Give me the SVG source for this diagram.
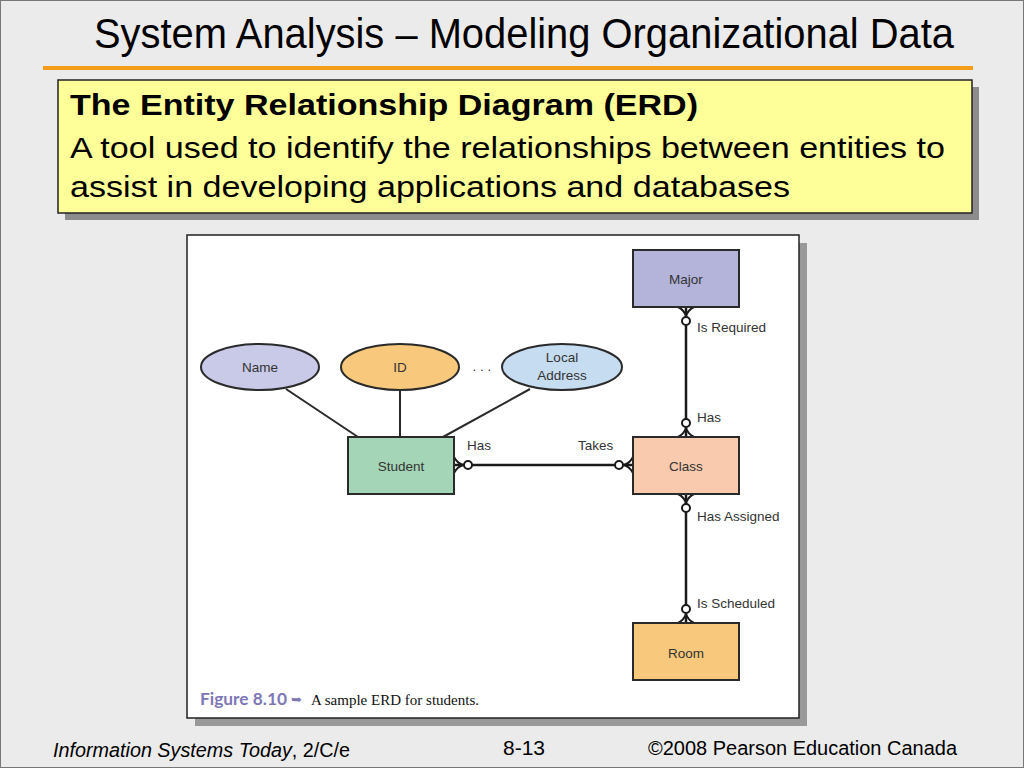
<svg xmlns="http://www.w3.org/2000/svg" width="1024" height="768" viewBox="0 0 1024 768">
<defs>
<style>
.ent{stroke:#2a2a2a;stroke-width:2}
.lbl{font-family:"Liberation Sans",Arial,sans-serif;font-size:13.5px;fill:#333}
.rel{font-family:"Liberation Sans",Arial,sans-serif;font-size:13.5px;fill:#333}
.conn{stroke:#1a1a1a;stroke-width:2.5;fill:none}
.attr{stroke:#2a2a2a;stroke-width:2;fill:none}
.box{font-family:"Liberation Sans",Arial,sans-serif;font-size:30px;fill:#000}
</style>
<marker id="crow" markerUnits="userSpaceOnUse" orient="auto-start-reverse" overflow="visible" refX="0" refY="0" markerWidth="1" markerHeight="1">
<path d="M0,-8 Q-3,-2 -9,0 Q-3,2 0,8" fill="none" stroke="#1a1a1a" stroke-width="2"/>
<circle cx="-14" cy="0" r="4" fill="#fff" stroke="#1a1a1a" stroke-width="2"/>
</marker>
</defs>
<rect x="0" y="0" width="1024" height="768" fill="#ebebeb"/>
<rect x="0.5" y="0.5" width="1023" height="767" fill="none" stroke="#777" stroke-width="1"/>
<text x="524" y="48" text-anchor="middle" font-family="'Liberation Sans',Arial,sans-serif" font-size="42" fill="#000" textLength="860" lengthAdjust="spacingAndGlyphs">System Analysis – Modeling Organizational Data</text>
<rect x="43" y="66" width="930" height="4" fill="#f59d1a"/>
<g id="infobox">
<rect x="65" y="87" width="914" height="133" fill="#8c8c8c"/>
<rect x="58" y="80" width="914" height="133" fill="#ffff99" stroke="#222" stroke-width="1.5"/>
<text class="box" x="70" y="115" font-weight="bold" textLength="628" lengthAdjust="spacingAndGlyphs">The Entity Relationship Diagram (ERD)</text>
<text class="box" x="70" y="158" textLength="875" lengthAdjust="spacingAndGlyphs">A tool used to identify the relationships between entities to</text>
<text class="box" x="70" y="197" textLength="720" lengthAdjust="spacingAndGlyphs">assist in developing applications and databases</text>
</g>
<g id="panel">
<rect x="195" y="243" width="612" height="483" fill="#999"/>
<rect x="187" y="235" width="612" height="483" fill="#fff" stroke="#222" stroke-width="1.5"/>
</g>
<g id="connectors">
<line class="attr" x1="286" y1="389" x2="358" y2="437"/>
<line class="attr" x1="400" y1="390" x2="400" y2="437"/>
<line class="attr" x1="530" y1="389" x2="443" y2="437"/>
<path class="conn" d="M454,465 L633,465" marker-start="url(#crow)" marker-end="url(#crow)"/>
<path class="conn" d="M686,307 L686,437" marker-start="url(#crow)" marker-end="url(#crow)"/>
<path class="conn" d="M686,494 L686,623" marker-start="url(#crow)" marker-end="url(#crow)"/>
<text class="rel" x="467" y="450">Has</text>
<text class="rel" x="578" y="450">Takes</text>
<text class="rel" x="697" y="332">Is Required</text>
<text class="rel" x="697" y="422">Has</text>
<text class="rel" x="697" y="521">Has Assigned</text>
<text class="rel" x="697" y="608">Is Scheduled</text>
</g>
<g id="name">
<ellipse class="ent" cx="260" cy="367" rx="59" ry="23" fill="#c9c9e8"/>
<text class="lbl" x="260" y="372" text-anchor="middle">Name</text>
</g>
<g id="id">
<ellipse class="ent" cx="400" cy="367" rx="59" ry="23" fill="#f8c97c"/>
<text class="lbl" x="400" y="372" text-anchor="middle">ID</text>
</g>
<text class="lbl" x="482" y="371" text-anchor="middle">. . .</text>
<g id="localaddress">
<ellipse class="ent" cx="562" cy="367" rx="60" ry="23" fill="#c6ddf1"/>
<text class="lbl" x="562" y="362" text-anchor="middle">Local</text>
<text class="lbl" x="562" y="380" text-anchor="middle">Address</text>
</g>
<g id="student">
<rect class="ent" x="348" y="437" width="106" height="57" fill="#a5d5b7"/>
<text class="lbl" x="401" y="471" text-anchor="middle">Student</text>
</g>
<g id="major">
<rect class="ent" x="633" y="250" width="106" height="57" fill="#b4b3da"/>
<text class="lbl" x="686" y="284" text-anchor="middle">Major</text>
</g>
<g id="class">
<rect class="ent" x="633" y="437" width="106" height="57" fill="#f9caae"/>
<text class="lbl" x="686" y="471" text-anchor="middle">Class</text>
</g>
<g id="room">
<rect class="ent" x="633" y="623" width="106" height="57" fill="#f8c97c"/>
<text class="lbl" x="686" y="658" text-anchor="middle">Room</text>
</g>
<g id="caption">
<text x="200" y="705" font-family="Lato,'Liberation Sans',sans-serif" font-size="17" font-weight="bold" fill="#7e77b6" textLength="87" lengthAdjust="spacingAndGlyphs">Figure 8.10</text>
<text x="291" y="704" font-family="'DejaVu Sans',sans-serif" font-size="13" fill="#7e77b6">➥</text>
<text x="311" y="705" font-family="'Liberation Serif','Times New Roman',serif" font-size="15" fill="#111" textLength="168" lengthAdjust="spacingAndGlyphs">A sample ERD for students.</text>
</g>
<g id="footer" font-family="'Liberation Sans',Arial,sans-serif" font-size="20" fill="#000">
<text x="53" y="757" textLength="297" lengthAdjust="spacingAndGlyphs"><tspan font-style="italic">Information Systems Today</tspan>, 2/C/e</text>
<text x="503" y="755" textLength="42" lengthAdjust="spacingAndGlyphs">8-13</text>
<text x="648" y="755" textLength="309" lengthAdjust="spacingAndGlyphs">©2008 Pearson Education Canada</text>
</g>
</svg>
